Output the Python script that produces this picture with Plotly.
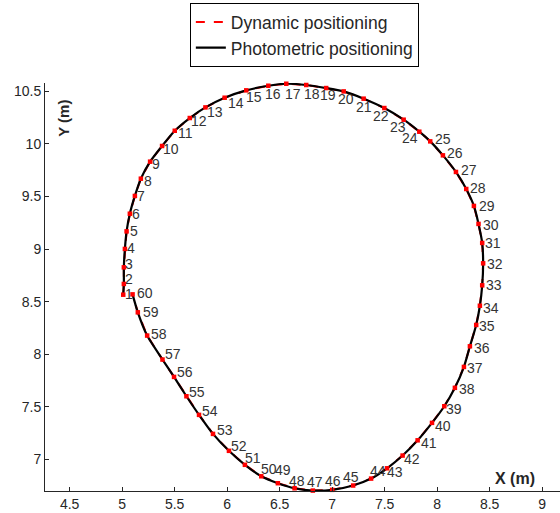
import plotly.graph_objects as go

# Data (metres)
point_ids = list(range(1, 61))
x_pos = [5.010, 5.016, 5.016, 5.026, 5.042, 5.073, 5.121, 5.178, 5.266, 5.380,
         5.501, 5.644, 5.793, 5.976, 6.182, 6.392, 6.563, 6.753, 6.943, 7.110,
         7.300, 7.497, 7.681, 7.830, 7.934, 8.055, 8.179, 8.277, 8.350, 8.394,
         8.429, 8.438, 8.429, 8.407, 8.372, 8.312, 8.255, 8.169, 8.068, 7.951,
         7.814, 7.671, 7.523, 7.371, 7.200, 7.000, 6.816, 6.642, 6.483, 6.325,
         6.169, 6.017, 5.865, 5.732, 5.612, 5.494, 5.384, 5.238, 5.149, 5.099]
y_pos = [8.567, 8.669, 8.827, 9.002, 9.169, 9.337, 9.506, 9.670, 9.832, 9.981,
         10.126, 10.247, 10.348, 10.440, 10.510, 10.554, 10.573, 10.561, 10.532, 10.500,
         10.431, 10.342, 10.231, 10.117, 10.025, 9.892, 9.734, 9.572, 9.411, 9.240,
         9.059, 8.865, 8.656, 8.462, 8.279, 8.076, 7.880, 7.681, 7.506, 7.348,
         7.182, 7.037, 6.916, 6.818, 6.752, 6.711, 6.704, 6.726, 6.774, 6.840,
         6.949, 7.082, 7.243, 7.424, 7.601, 7.785, 7.950, 8.178, 8.399, 8.570]

x_ticks = [4.5, 5, 5.5, 6, 6.5, 7, 7.5, 8, 8.5, 9]
y_ticks = [7, 7.5, 8, 8.5, 9, 9.5, 10, 10.5]

# label offsets in pixels (dx right, dy up) - styling only
label_offsets = [
    (6, 1), (5, 5), (5, 3), (6, 1), (7, 0), (6, 0), (6, 0), (7, -2), (6, -2), (9, -3),
    (11, -2), (9, -3), (10, -5), (11, -5), (8, -7), (5, -8), (7, -10), (6, -9), (2, -7), (2, -8),
    (0, -8), (-3, -8), (-6, -7), (-9, -6), (13, 2), (12, 2), (13, 2), (12, 1), (13, 0), (12, -1),
    (11, 0), (12, -1), (12, 0), (11, -2), (11, -1), (12, -2), (11, -1), (12, -1), (10, -3), (11, -3),
    (11, -3), (9, -3), (8, -4), (7, 8), (-2, 9), (1, 9), (2, 9), (2, 7), (5, 13), (8, 7),
    (8, 7), (10, 5), (12, 4), (11, 4), (11, 4), (11, 5), (11, 6), (12, 2), (13, 0), (12, 1),
]

AX = "#262626"
FONT = "Arial, Liberation Sans, sans-serif"

fig = go.Figure()
fig.add_trace(go.Scatter(x=x_pos, y=y_pos, mode="lines", name="Dynamic positioning",
                         cliponaxis=False,
                         line=dict(color="#ff0000", width=2, dash="dash")))
fig.add_trace(go.Scatter(x=x_pos, y=y_pos, mode="lines", name="Photometric positioning",
                         cliponaxis=False,
                         line=dict(color="black", width=2.2, shape="spline", smoothing=0.6)))
fig.add_trace(go.Scatter(x=x_pos, y=y_pos, mode="markers", showlegend=False,
                         cliponaxis=False,
                         marker=dict(color="#ff0000", size=4.5, symbol="square")))

for pid, xv, yv, (dx, dy) in zip(point_ids, x_pos, y_pos, label_offsets):
    fig.add_annotation(x=xv, y=yv, text=str(pid), showarrow=False,
                       xanchor="center", yanchor="middle", xshift=dx, yshift=dy,
                       font=dict(family=FONT, size=14, color="#333333"))

fig.add_annotation(x=0.0345, y=0.914, xref="paper", yref="paper", text="<b>Y (m)</b>",
                   xanchor="center", yanchor="middle",
                   textangle=-90, showarrow=False, font=dict(family=FONT, size=15, color=AX))
fig.add_annotation(x=0.912, y=0.03, xref="paper", yref="paper", text="<b>X (m)</b>",
                   xanchor="center", yanchor="middle",
                   showarrow=False, font=dict(family=FONT, size=16, color=AX))

fig.update_layout(
    width=560, height=513,
    margin=dict(l=45, r=0, t=83, b=22, autoexpand=False),
    paper_bgcolor="white", plot_bgcolor="white",
    font=dict(family=FONT, size=14, color=AX),
    legend=dict(x=0.339, y=0.994, xref="container", yref="container",
                xanchor="left", yanchor="top",
                bordercolor="black", borderwidth=1, bgcolor="white",
                font=dict(family=FONT, size=17.5, color=AX)),
    xaxis=dict(range=[4.265, 9.17], tickvals=x_ticks, ticktext=[f"{v:g}" for v in x_ticks],
               automargin=False,
               showgrid=False, zeroline=False, showline=True, linecolor=AX, linewidth=1,
               ticks="inside", ticklen=4, tickcolor=AX, tickfont=dict(size=14, color=AX)),
    yaxis=dict(range=[6.70, 10.58], tickvals=y_ticks, ticktext=[f"{v:g}" for v in y_ticks],
               automargin=False,
               showgrid=False, zeroline=False, showline=True, linecolor=AX, linewidth=1,
               ticks="inside", ticklen=4, tickcolor=AX, tickfont=dict(size=14, color=AX)),
)

fig.write_html("out.html", config={"displayModeBar": False},
               post_script="document.body.style.margin='0';")
